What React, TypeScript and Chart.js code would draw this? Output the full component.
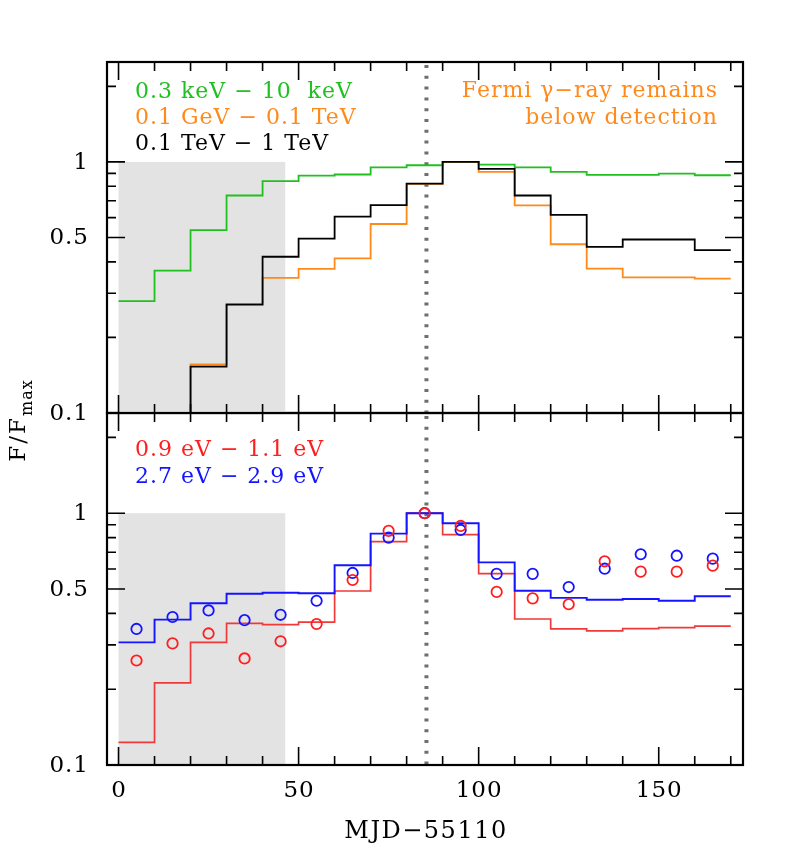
import React, { useEffect, useRef } from "react";
import { Chart, registerables } from "chart.js";

Chart.register(...registerables);

// ---------- data ----------
const binEdges = [0, 10, 20, 30, 40, 50, 60, 70, 80, 90, 100, 110, 120, 130, 140, 150, 160, 170];
const binCenters = [5, 15, 25, 35, 45, 55, 65, 75, 85, 95, 105, 115, 125, 135, 145, 155, 165];

// top panel (one value per 10-day bin)
const xray03to10keV = [0.279, 0.369, 0.535, 0.735, 0.838, 0.882, 0.891, 0.952, 0.970, 1.0, 0.975, 0.952, 0.913, 0.888, 0.888, 0.899, 0.885];
const gamma01GeVto01TeV = [0.05, 0.05, 0.156, 0.272, 0.345, 0.375, 0.413, 0.566, 0.818, 1.0, 0.913, 0.671, 0.470, 0.376, 0.347, 0.347, 0.343];
const gamma01to1TeV = [0.05, 0.05, 0.153, 0.270, 0.419, 0.495, 0.606, 0.673, 0.820, 1.0, 0.938, 0.735, 0.615, 0.459, 0.491, 0.491, 0.445];

// bottom panel steps
const opt09to11eVStep = [0.123, 0.212, 0.307, 0.365, 0.361, 0.369, 0.491, 0.771, 1.0, 0.822, 0.575, 0.380, 0.347, 0.341, 0.348, 0.351, 0.356];
const opt27to29eVStep = [0.307, 0.378, 0.439, 0.479, 0.483, 0.481, 0.621, 0.830, 1.0, 0.912, 0.638, 0.492, 0.461, 0.453, 0.456, 0.449, 0.468];
// bottom panel points (bin centres)
const opt09to11eVPts = [0.260, 0.304, 0.333, 0.265, 0.310, 0.363, 0.543, 0.851, 1.0, 0.890, 0.487, 0.459, 0.435, 0.644, 0.586, 0.586, 0.619];
const opt27to29eVPts = [0.347, 0.387, 0.411, 0.376, 0.395, 0.449, 0.579, 0.800, 1.0, 0.858, 0.574, 0.574, 0.509, 0.602, 0.687, 0.678, 0.660];

const xMajorTicks = [0, 50, 100, 150];
const xMinorTicks = [10, 20, 30, 40, 60, 70, 80, 90, 110, 120, 130, 140, 160, 170];
const yMajorTicks = [0.1, 0.5, 1];
const yMinorTicks = [0.2, 0.3, 0.4, 0.6, 0.7, 0.8, 0.9, 2];
const yTickLabels = ["0.1", "0.5", "1"];
const xTickLabels = ["0", "50", "100", "150"];
const shadeStart = 0;
const shadeEnd = 46.3;
const shadeTop = 1;
const flareDay = 85.5;

const X_MIN = -3.2;
const X_MAX = 173.4;
const Y_MIN = 0.1;
const Y_MAX = 2.5;

const GREEN = "#20c020";
const ORANGE = "#ff8a1c";
const RED = "#ff1e1e";
const BLUE = "#1414ff";
const FONT = '"DejaVu Serif", serif';

const stepData = (vals: number[]) =>
  binEdges.map((x, i) => ({ x, y: vals[Math.min(i, vals.length - 1)] }));
const pointData = (vals: number[]) => binCenters.map((x, i) => ({ x, y: vals[i] }));

type TextItem = { text: string; color: string; x: number; y: number; align: CanvasTextAlign };

function makePanelPlugin(opts: {
  texts: TextItem[];
  drawXLabels: boolean;
}) {
  return {
    id: "panelDecor",
    beforeDatasetsDraw(chart: any) {
      const { ctx, chartArea } = chart;
      const xs = chart.scales.x;
      const ys = chart.scales.y;
      ctx.save();
      // shaded region
      const x0 = xs.getPixelForValue(shadeStart);
      const x1 = xs.getPixelForValue(shadeEnd);
      const y0 = ys.getPixelForValue(shadeTop);
      const y1 = ys.getPixelForValue(Y_MIN);
      ctx.fillStyle = "#e3e3e3";
      ctx.fillRect(x0, y0, x1 - x0, y1 - y0);
      // dotted flare line
      const xf = xs.getPixelForValue(flareDay);
      ctx.strokeStyle = "#6f6f6f";
      ctx.lineWidth = 4;
      ctx.setLineDash([3, 7.8]);
      ctx.lineDashOffset = -3;
      ctx.beginPath();
      ctx.moveTo(xf, chartArea.top);
      ctx.lineTo(xf, chartArea.bottom);
      ctx.stroke();
      ctx.restore();
    },
    afterDraw(chart: any) {
      const { ctx, chartArea } = chart;
      const xs = chart.scales.x;
      const ys = chart.scales.y;
      const { left, right, top, bottom } = chartArea;
      ctx.save();
      ctx.strokeStyle = "#000";
      ctx.lineWidth = 1.6;
      ctx.setLineDash([]);
      ctx.beginPath();
      const major = 18;
      const minor = 9;
      xMajorTicks.forEach((v) => {
        const p = xs.getPixelForValue(v);
        ctx.moveTo(p, bottom); ctx.lineTo(p, bottom - major);
        ctx.moveTo(p, top); ctx.lineTo(p, top + major);
      });
      xMinorTicks.forEach((v) => {
        const p = xs.getPixelForValue(v);
        ctx.moveTo(p, bottom); ctx.lineTo(p, bottom - minor);
        ctx.moveTo(p, top); ctx.lineTo(p, top + minor);
      });
      yMajorTicks.forEach((v) => {
        const p = ys.getPixelForValue(v);
        ctx.moveTo(left, p); ctx.lineTo(left + major, p);
        ctx.moveTo(right, p); ctx.lineTo(right - major, p);
      });
      yMinorTicks.forEach((v) => {
        const p = ys.getPixelForValue(v);
        ctx.moveTo(left, p); ctx.lineTo(left + minor, p);
        ctx.moveTo(right, p); ctx.lineTo(right - minor, p);
      });
      ctx.stroke();
      // frame
      ctx.lineWidth = 2.2;
      ctx.strokeRect(left, top, right - left, bottom - top);

      // y tick labels
      ctx.fillStyle = "#000";
      ctx.font = `23px ${FONT}`;
      (ctx as any).letterSpacing = "1px";
      ctx.textAlign = "right";
      ctx.textBaseline = "middle";
      yMajorTicks.forEach((v, i) => {
        ctx.fillText(yTickLabels[i], left - 18, ys.getPixelForValue(v) + 1);
      });
      if (opts.drawXLabels) {
        ctx.textAlign = "center";
        xMajorTicks.forEach((v, i) => {
          ctx.fillText(xTickLabels[i], xs.getPixelForValue(v) + 0.5, bottom + 26);
        });
        ctx.font = `24px ${FONT}`;
        (ctx as any).letterSpacing = "1.5px";
        ctx.fillText("MJD\u221255110", (left + right) / 2 + 1, bottom + 67);
        // y title
        ctx.save();
        ctx.translate(25, top + 6);
        ctx.rotate(-Math.PI / 2);
        ctx.textAlign = "left";
        ctx.textBaseline = "alphabetic";
        (ctx as any).letterSpacing = "2px";
        ctx.font = `23px ${FONT}`;
        const main = "F/F";
        const w = ctx.measureText(main).width;
        ctx.font = `16px ${FONT}`;
        const ws = ctx.measureText("max").width;
        const total = w + ws;
        ctx.font = `23px ${FONT}`;
        ctx.fillText(main, -total / 2, 0);
        ctx.font = `16px ${FONT}`;
        (ctx as any).letterSpacing = "1px";
        ctx.fillText("max", -total / 2 + w, 7);
        ctx.restore();
      }
      // legend / annotation texts
      ctx.font = `22px ${FONT}`;
      (ctx as any).letterSpacing = "1px";
      ctx.textBaseline = "middle";
      opts.texts.forEach((t) => {
        ctx.fillStyle = t.color;
        ctx.textAlign = t.align;
        ctx.fillText(t.text, t.x, t.y);
      });
      ctx.restore();
    },
  };
}

const baseScales = {
  x: { type: "linear" as const, min: X_MIN, max: X_MAX, display: false },
  y: { type: "logarithmic" as const, min: Y_MIN, max: Y_MAX, display: false },
};

function PanelChart(props: { config: any; style: React.CSSProperties }) {
  const ref = useRef<HTMLCanvasElement | null>(null);
  useEffect(() => {
    if (!ref.current) return;
    const chart = new Chart(ref.current, props.config);
    return () => chart.destroy();
  }, []);
  return <canvas ref={ref} width={806} height={857} style={props.style} />;
}

const stepDataset = (label: string, vals: number[], color: string, order: number, width = 1.8) => ({
  label,
  data: stepData(vals),
  borderColor: color,
  backgroundColor: color,
  borderWidth: width,
  stepped: "before" as const,
  pointRadius: 0,
  fill: false,
  order,
});

const pointDataset = (label: string, vals: number[], color: string, order: number) => ({
  label,
  data: pointData(vals),
  borderColor: color,
  backgroundColor: "rgba(0,0,0,0)",
  showLine: false,
  pointRadius: 5.2,
  pointBorderWidth: 1.8,
  pointStyle: "circle",
  order,
});

const commonOptions = (padding: any) => ({
  responsive: false,
  animation: false as const,
  devicePixelRatio: 1,
  layout: { padding },
  plugins: { legend: { display: false }, tooltip: { enabled: false } },
  events: [] as any[],
  scales: baseScales,
});

const topConfig = {
  type: "line",
  data: {
    datasets: [
      stepDataset("0.1 TeV − 1 TeV", gamma01to1TeV, "#000000", 1),
      stepDataset("0.1 GeV − 0.1 TeV", gamma01GeVto01TeV, ORANGE, 2),
      stepDataset("0.3 keV − 10 keV", xray03to10keV, GREEN, 3),
    ],
  },
  options: commonOptions({ left: 107, right: 63, top: 62, bottom: 444 }),
  plugins: [
    makePanelPlugin({
      drawXLabels: false,
      texts: [
        { text: "0.3 keV \u2212 10  keV", color: GREEN, x: 135, y: 92, align: "left" },
        { text: "0.1 GeV \u2212 0.1 TeV", color: ORANGE, x: 135, y: 118, align: "left" },
        { text: "0.1 TeV \u2212 1 TeV", color: "#000000", x: 135, y: 144, align: "left" },
        { text: "Fermi \u03b3\u2212ray remains", color: ORANGE, x: 718, y: 91, align: "right" },
        { text: "below detection", color: ORANGE, x: 718, y: 118, align: "right" },
      ],
    }),
  ],
};

const bottomConfig = {
  type: "line",
  data: {
    datasets: [
      pointDataset("0.9 eV − 1.1 eV points", opt09to11eVPts, RED, 1),
      pointDataset("2.7 eV − 2.9 eV points", opt27to29eVPts, BLUE, 2),
      stepDataset("2.7 eV − 2.9 eV", opt27to29eVStep, BLUE, 3, 1.9),
      stepDataset("0.9 eV − 1.1 eV", opt09to11eVStep, "#f03a3a", 4, 1.7),
    ],
  },
  options: commonOptions({ left: 107, right: 63, top: 413, bottom: 92 }),
  plugins: [
    makePanelPlugin({
      drawXLabels: true,
      texts: [
        { text: "0.9 eV \u2212 1.1 eV", color: RED, x: 135, y: 450, align: "left" },
        { text: "2.7 eV \u2212 2.9 eV", color: BLUE, x: 135, y: 477, align: "left" },
      ],
    }),
  ],
};

export default function App() {
  return (
    <div style={{ position: "absolute", left: 0, top: 0, width: 806, height: 857, background: "#fff" }}>
      <PanelChart config={bottomConfig} style={{ position: "absolute", left: 0, top: 0 }} />
      <PanelChart config={topConfig} style={{ position: "absolute", left: 0, top: 0 }} />
    </div>
  );
}
